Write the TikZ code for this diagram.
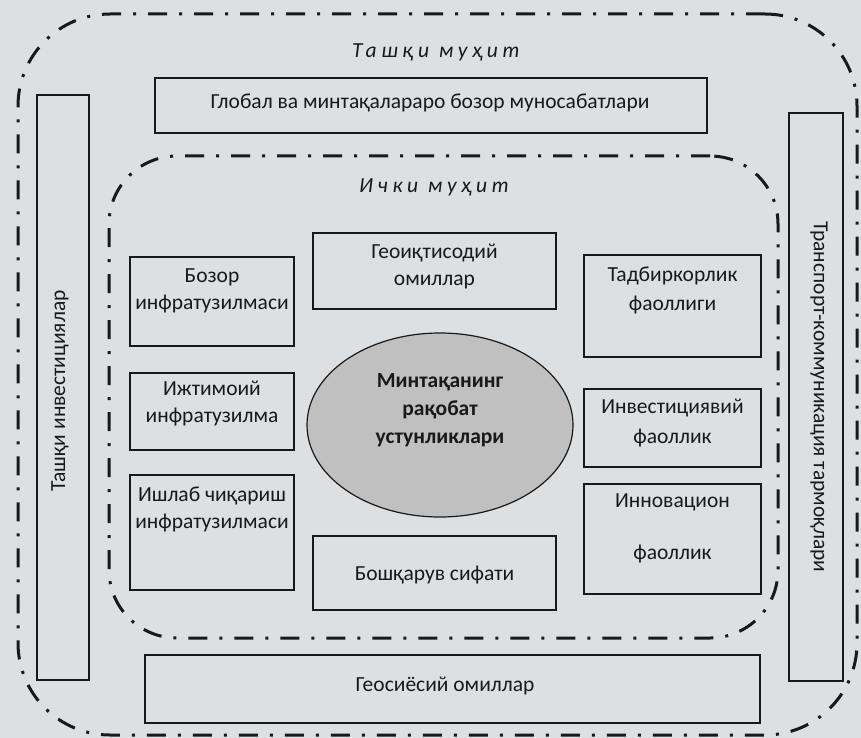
\documentclass[tikz,border=0pt]{standalone}
\usepackage{fontspec}
\setmainfont{Carlito}
\newfontfamily\spit[LetterSpace=22]{Carlito}
\usetikzlibrary{shapes.geometric}
\definecolor{bg}{RGB}{221,224,226}
\definecolor{ink}{RGB}{25,25,25}
\definecolor{fillg}{RGB}{192,192,192}
\begin{document}
\begin{tikzpicture}[x=1pt,y=-1pt,
  box/.style={draw=ink, line width=1.8pt, inner sep=0pt, outer sep=0pt, rectangle},
  lbl/.style={text=ink, align=center, font=\fontsize{21.5}{27}\selectfont, inner sep=0pt},
  frame/.style={draw=ink, line width=3pt, dash pattern=on 19pt off 12pt on 3pt off 12pt,
    rectangle, inner sep=0pt, outer sep=0pt},
  envlbl/.style={text=ink, inner sep=0pt, font=\fontsize{21.5}{27}\spit\itshape}]
\fill[bg] (0,0) rectangle (861,738);
\useasboundingbox (0,0) rectangle (861,738);
% environment frames
\node[frame, rounded corners=92pt, minimum width=839pt, minimum height=721pt] (outer) at (437.5,374.5) {};
\node[frame, rounded corners=68pt, minimum width=669pt, minimum height=482pt] (inner) at (443.5,397) {};
\node[envlbl] (outerlbl) at (436,52) {Ташқи муҳит};
\node[envlbl] (innerlbl) at (434,187) {Ички муҳит};
% outer boxes
\node[box, minimum width=552pt, minimum height=55pt] (global) at (431,105.5) {};
\node[lbl] (globalt) at (430,103) {Глобал ва минтақалараро бозор муносабатлари};
\node[box, minimum width=52pt, minimum height=585pt] (left) at (63,387.5) {};
\node[lbl, rotate=90] (leftt) at (60,391) {Ташқи инвестициялар};
\node[box, minimum width=54pt, minimum height=568pt] (right) at (816,397) {};
\node[lbl, rotate=-90] (rightt) at (819,397) {Транспорт-коммуникация тармоқлари};
\node[box, minimum width=615pt, minimum height=68pt] (geosi) at (452.5,689) {};
\node[lbl] (geosit) at (445,686) {Геосиёсий омиллар};
% inner boxes
\node[box, minimum width=243pt, minimum height=76pt] (geoiq) at (434.5,271) {};
\node[lbl] (geoiqt) at (434.5,266) {Геоиқтисодий\\омиллар};
\node[box, minimum width=164pt, minimum height=89pt] (bozor) at (212,301.5) {};
\node[lbl] (bozort) at (212,291) {Бозор\\инфратузилмаси};
\node[box, minimum width=164pt, minimum height=77pt] (ijt) at (212,411.5) {};
\node[lbl] (ijtt) at (212,404) {Ижтимоий\\инфратузилма};
\node[box, minimum width=164pt, minimum height=115pt] (ishlab) at (212,532.5) {};
\node[lbl] (ishlabt) at (212,509) {Ишлаб чиқариш\\инфратузилмаси};
\node[box, minimum width=177pt, minimum height=102pt] (tadb) at (672.5,306) {};
\node[lbl] (tadbt) at (672.5,290.5) {Тадбиркорлик\\[2pt]фаоллиги};
\node[box, minimum width=177pt, minimum height=78pt] (invest) at (672.5,428) {};
\node[lbl] (investt) at (672.5,423) {Инвестициявий\\[3pt]фаоллик};
\node[box, minimum width=177pt, minimum height=110pt] (innov) at (672.5,539) {};
\node[lbl] (innovt) at (672.5,528) {Инновацион\\[25pt]фаоллик};
\node[box, minimum width=243pt, minimum height=74pt] (boshq) at (434.5,573) {};
\node[lbl] (boshqt) at (434.5,575) {Бошқарув сифати};
% central ellipse
\node[ellipse, draw=ink, line width=1.2pt, fill=fillg, minimum width=266pt, minimum height=184pt,
  inner sep=0pt] (core) at (440,425) {};
\node[lbl, font=\fontsize{21.5}{28}\selectfont\bfseries] (coret) at (440,410) {Минтақанинг\\рақобат\\устунликлари};
\end{tikzpicture}
\end{document}
